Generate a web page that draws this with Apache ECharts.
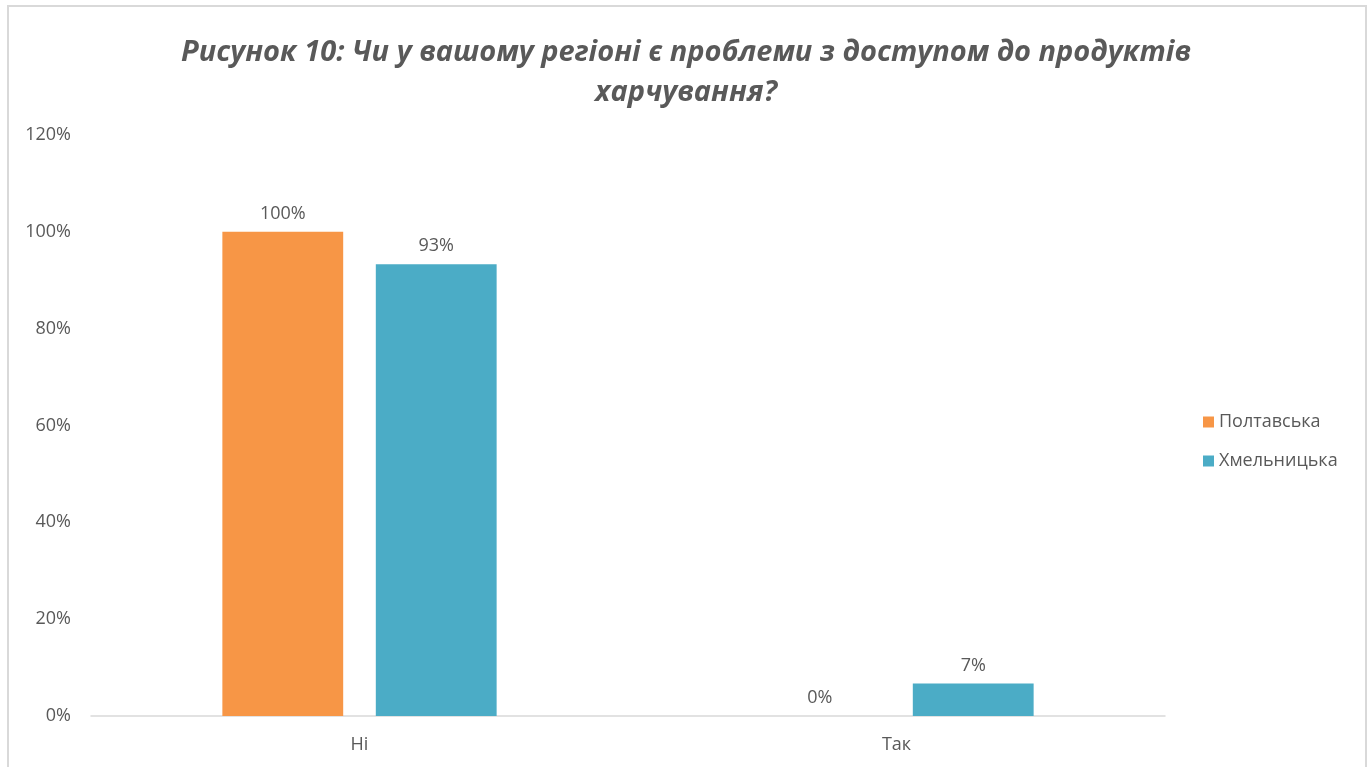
<!DOCTYPE html>
<html>
<head>
<meta charset="utf-8">
<script src="https://cdn.jsdelivr.net/npm/echarts@6/dist/echarts.min.js"></script>
<style>
    html, body { margin: 0; padding: 0; background: #fff; }
    #chart { width: 1372px; height: 767px; }
</style>
</head>
<body>
<div id="chart"></div>
<script>
    // дані з рисунка
    var categories = ['Ні', 'Так'];
    var seriesNames = ['Полтавська', 'Хмельницька'];
    var poltava = [100, 0];
    var khmelnytsk = [93.3, 6.7];
    var yTicks = [0, 20, 40, 60, 80, 100, 120];

    var textColor = '#595959';
    var font = '"Open Sans", "Noto Sans", sans-serif';

    var myChart = echarts.init(document.getElementById('chart'));

    var labelOpt = {
        show: true,
        position: 'top',
        distance: 9,
        color: textColor,
        fontSize: 18,
        fontFamily: font,
        formatter: function (p) {
            return Math.round(p.value) + '%';
        }
    };

    myChart.setOption({
        backgroundColor: '#fff',
        animation: false,
        title: {
            text: 'Рисунок 10: Чи у вашому регіоні є проблеми з доступом до продуктів\nхарчування?',
            left: 'center',
            top: 28,
            textStyle: {
                color: textColor,
                fontSize: 29,
                fontWeight: 'bold',
                fontStyle: 'italic',
                fontFamily: font,
                lineHeight: 40
            }
        },
        legend: {
            orient: 'vertical',
            left: 1198,
            top: 408,
            itemWidth: 11,
            itemHeight: 11,
            itemGap: 21,
            icon: 'rect',
            textStyle: { color: textColor, fontSize: 18, fontFamily: font },
            data: seriesNames
        },
        grid: {
            left: 91,
            right: 207,
            top: 135,
            bottom: 51,
            containLabel: false
        },
        xAxis: {
            type: 'category',
            data: categories,
            axisLine: { lineStyle: { color: '#d9d9d9', width: 1.5 } },
            axisTick: { show: false },
            axisLabel: { color: textColor, fontSize: 18, fontFamily: font, margin: 20 }
        },
        yAxis: {
            type: 'value',
            min: yTicks[0],
            max: yTicks[yTicks.length - 1],
            interval: 20,
            axisLine: { show: false },
            axisTick: { show: false },
            splitLine: { show: false },
            axisLabel: {
                color: textColor,
                fontSize: 18,
                fontFamily: font,
                margin: 20,
                formatter: '{value}%'
            }
        },
        graphic: [{
            type: 'rect',
            shape: { x: 8, y: 6, width: 1358, height: 800 },
            style: { fill: 'none', stroke: '#d9d9d9', lineWidth: 2 },
            silent: true
        }],
        series: [{
            name: seriesNames[0],
            type: 'bar',
            data: poltava,
            barWidth: '22.5%',
            barGap: '27%',
            itemStyle: { color: '#F79646' },
            label: labelOpt
        }, {
            name: seriesNames[1],
            type: 'bar',
            data: khmelnytsk,
            barWidth: '22.5%',
            barGap: '27%',
            itemStyle: { color: '#4BACC6' },
            label: labelOpt
        }]
    });
</script>
</body>
</html>
